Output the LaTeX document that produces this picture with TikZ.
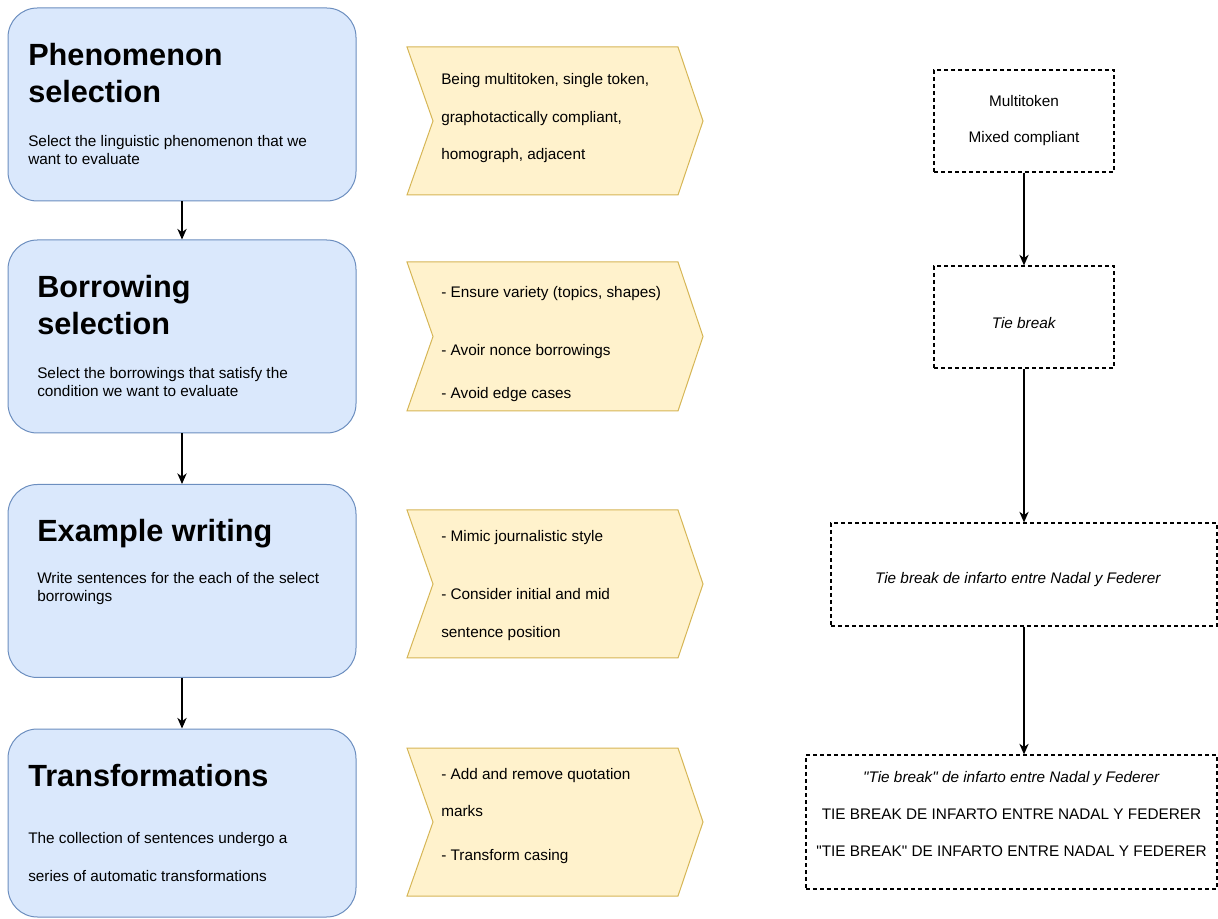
\documentclass[tikz,border=0pt]{standalone}
\usepackage{fontspec}
\setmainfont{Liberation Sans}[Ligatures=TeXOff]
\usetikzlibrary{arrows.meta,positioning,calc}
\definecolor{stepfill}{HTML}{DAE8FC}
\definecolor{stepline}{HTML}{6C8EBF}
\definecolor{chevfill}{HTML}{FFF2CC}
\definecolor{chevline}{HTML}{D6B656}
\tikzset{stepbox/.style={draw=stepline,fill=stepfill,rounded corners=22pt,line width=0.75pt,
  minimum width=261pt,minimum height=144.75pt,inner sep=0pt},
  steptitle/.style={anchor=west,align=left,inner sep=0pt,font=\fontsize{23}{27.75}\selectfont\bfseries},
  stepdesc/.style={anchor=west,align=left,inner sep=0pt,font=\fontsize{11.5}{13.5}\selectfont},
  chevron/.style={draw=chevline,fill=chevfill,line width=0.75pt},
  sample/.style={draw,dash pattern=on 3pt off 2.25pt,line width=0.9pt,inner sep=0pt},
  sampletext/.style={align=center,inner sep=0pt,font=\fontsize{11.5}{13.5}\selectfont},
  arrow/.style={-{Stealth[length=8pt,width=7pt,inset=2.5pt]},line width=0.9pt}}
\begin{document}
\begin{tikzpicture}[x=0.75pt,y=-0.75pt]
\useasboundingbox (0,0) rectangle (1218,919);
% steps
\node[stepbox] (s1) at (182,104.5) {};
\node[stepbox] (s2) at (182,336.5) {};
\node[stepbox] (s3) at (182,581) {};
\node[stepbox,minimum height=141pt] (s4) at (182,823) {};
\node[steptitle] (t1) at (28,73) {Phenomenon\\selection};
\node[stepdesc] (d1) at (28,150) {Select the linguistic phenomenon that we\\want to evaluate};
\node[steptitle] (t2) at (37,305) {Borrowing\\selection};
\node[stepdesc] (d2) at (37,382) {Select the borrowings that satisfy the\\condition we want to evaluate};
\node[steptitle] (t3) at (37,534) {Example writing};
\node[stepdesc] (d3) at (37,589) {Write sentences for the each of the select\\borrowings};
\node[steptitle] (t4) at (28,776) {Transformations};
\node[stepdesc] (d4) at (28,857) {The collection of sentences undergo a\\[15pt]series of automatic transformations};
\draw[arrow] (s1)--(s2);\draw[arrow] (s2)--(s3);\draw[arrow] (s3)--(s4);
% criteria
\draw[chevron] (407,47)--(678,47)--(703,121)--(678,195)--(407,195)--(433,121)--cycle;
\draw[chevron] (407,262)--(678,262)--(703,336.5)--(678,411)--(407,411)--(433,336.5)--cycle;
\draw[chevron] (407,510)--(678,510)--(703,584)--(678,658)--(407,658)--(433,584)--cycle;
\draw[chevron] (407,748)--(678,748)--(703,822)--(678,896)--(407,896)--(433,822)--cycle;
\node[stepdesc] (c1) at (441,118) {Being multitoken, single token,\\[15pt]graphotactically compliant,\\[14.25pt]homograph, adjacent};
\node[stepdesc] (c2) at (441,344.5) {- Ensure variety (topics, shapes)\\[30pt]- Avoir nonce borrowings\\[18.75pt]- Avoid edge cases};
\node[stepdesc] (c3) at (441,586) {- Mimic journalistic style\\[30pt]- Consider initial and mid\\[15pt]sentence position};
\node[stepdesc] (c4) at (441,816.5) {- Add and remove quotation\\[14.25pt]marks\\[19.5pt]- Transform casing};
% example
\node[sample,minimum width=135pt,minimum height=76.5pt] (e1) at (1024,121) {};
\node[sample,minimum width=135pt,minimum height=76.5pt] (e2) at (1024,317) {};
\node[sample,minimum width=289.5pt,minimum height=77.25pt] (e3) at (1024,574.5) {};
\node[sample,minimum width=308.25pt,minimum height=100.5pt] (e4) at (1011.5,822) {};
\node[sampletext] (x1) at (1024,121) {Multitoken\\[13.5pt]Mixed compliant};
\node[sampletext] (x2) at (1024,323) {\textit{Tie break}};
\node[sampletext] (x3) at (1018,579.5) {\textit{Tie break de infarto entre Nadal y Federer}};
\node[sampletext] (x4) at (1011.5,814) {\textit{"Tie break" de infarto entre Nadal y Federer}\\[14pt]TIE BREAK DE INFARTO ENTRE NADAL Y FEDERER\\[14pt]"TIE BREAK" DE INFARTO ENTRE NADAL Y FEDERER};
\draw[arrow] (e1)--(e2);\draw[arrow] (e2)--(e3);\draw[arrow] (e3.south)--(e3.south |- e4.north);
\end{tikzpicture}
\end{document}
